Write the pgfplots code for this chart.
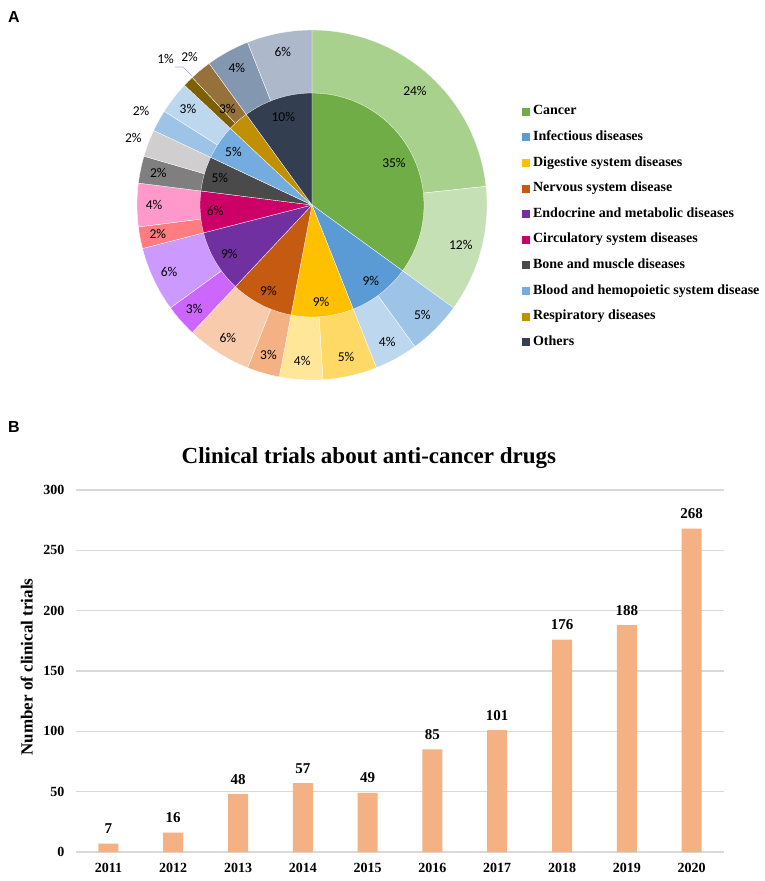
\documentclass[border=0pt]{standalone}
\usepackage{pgfplots}
\pgfplotsset{compat=1.18}
\usepackage{fontspec}
\setmainfont{Liberation Serif}
\newfontfamily\carlito{Carlito}
\newfontfamily\arialf{Liberation Sans}

% inner ring (disease groups)
\definecolor{inCa}{HTML}{70AD47}
\definecolor{inIn}{HTML}{5B9BD5}
\definecolor{inDi}{HTML}{FFC000}
\definecolor{inNe}{HTML}{C55A11}
\definecolor{inEn}{HTML}{7030A0}
\definecolor{inCi}{HTML}{CC0066}
\definecolor{inBo}{HTML}{4A4A4A}
\definecolor{inBl}{HTML}{75ACE0}
\definecolor{inRe}{HTML}{C09000}
\definecolor{inOt}{HTML}{333F50}
% outer ring
\definecolor{oCa1}{HTML}{A9D18E}
\definecolor{oCa2}{HTML}{C5E0B4}
\definecolor{oIn1}{HTML}{9DC3E6}
\definecolor{oIn2}{HTML}{BDD7EE}
\definecolor{oDi1}{HTML}{FFD966}
\definecolor{oDi2}{HTML}{FFE699}
\definecolor{oNe1}{HTML}{F4B183}
\definecolor{oNe2}{HTML}{F8CBAD}
\definecolor{oEn1}{HTML}{CC66FF}
\definecolor{oEn2}{HTML}{CC99FF}
\definecolor{oCi1}{HTML}{FF7C80}
\definecolor{oCi2}{HTML}{FF99CC}
\definecolor{oBo1}{HTML}{7F7F7F}
\definecolor{oBo2}{HTML}{D0CECE}
\definecolor{oBl1}{HTML}{9DC3E6}
\definecolor{oBl2}{HTML}{BDD7EE}
\definecolor{oRe1}{HTML}{7F6000}
\definecolor{oRe2}{HTML}{97713A}
\definecolor{oOt1}{HTML}{8497B0}
\definecolor{oOt2}{HTML}{ADB9CA}
\definecolor{barc}{HTML}{F4B183}
\definecolor{gridc}{HTML}{D9D9D9}

% share (%) / colour / label / label radius
\newcommand\innerlist{35/inCa/35/92, 9/inIn/9/96, 9/inDi/9/97, 9/inNe/9/96,
  9/inEn/9/96, 6/inCi/6/97, 5/inBo/5/96, 5/inBl/5/95, 3/inRe/3/128, 10/inOt/10/93}
\newcommand\outerlist{23.3/oCa1/24/154, 11.7/oCa2/12/154, 5/oIn1/5/156, 4/oIn2/4/156,
  5/oDi1/5/156, 4/oDi2/4/156, 3/oNe1/3/156, 6/oNe2/6/157, 3/oEn1/3/157, 6/oEn2/6/158,
  2/oCi1/2/157, 4/oCi2/4/158, 2.5/oBo1/2/157, 2.5/oBo2/2/191, 2/oBl1/2/195,
  3/oBl2/3/157, 1/oRe1/1/207, 2/oRe2/2/192, 4/oOt1/4/156, 6/oOt2/6/156}

\newcommand\ringfill[2]{%
  \xdef\cum{0}%
  \foreach \pp/\col/\lab/\rad in #2 {%
    \pgfmathsetmacro\sa{90-3.6*\cum}%
    \pgfmathsetmacro\ea{90-3.6*(\cum+\pp)}%
    \edef\temp{\noexpand\fill[\col, draw=white, line width=0.3pt] (axis cs:0,0) --
      (axis cs:{#1*cos(\sa)},{#1*sin(\sa)}) arc[start angle=\sa, end angle=\ea, radius=#1pt] -- cycle;}%
    \temp
    \pgfmathsetmacro\nn{\cum+\pp}\xdef\cum{\nn}%
  }}
\newcommand\ringlabels[1]{%
  \xdef\cum{0}%
  \foreach \pp/\col/\lab/\rad in #1 {%
    \pgfmathsetmacro\mm{90-3.6*(\cum+\pp/2)}%
    \edef\temp{\noexpand\node[pielab] at (axis cs:{\rad*cos(\mm)},{\rad*sin(\mm)}) {\lab\noexpand\%};}%
    \temp
    \pgfmathsetmacro\nn{\cum+\pp}\xdef\cum{\nn}%
  }}
\newcommand\legsq[1]{\addlegendimage{legend image code/.code={\fill[#1] (0pt,-3.5pt) rectangle (7pt,3.5pt);}}}
\tikzset{pielab/.style={font=\carlito\fontsize{13.5}{15}\selectfont, inner sep=0pt}}

\begin{document}
\begin{tikzpicture}
\path[use as bounding box] (0pt,0pt) rectangle (765pt,-881pt);
\node[font=\arialf\bfseries\fontsize{16}{18}\selectfont] at (14pt,-17pt) {A};
\node[font=\arialf\bfseries\fontsize{16}{18}\selectfont] at (14pt,-427pt) {B};

% panel A: donut
\begin{axis}[
    at={(312pt,-205pt)}, anchor=center,
    scale only axis, width=400pt, height=400pt,
    xmin=-200, xmax=200, ymin=-200, ymax=200,
    hide axis, clip=false,
    legend cell align=left,
    legend style={at={(axis cs:209.5,100.3)}, anchor=north west, draw=none, fill=none,
      inner sep=0pt, font=\bfseries\fontsize{14}{16}\selectfont, row sep=12.6pt,
      nodes={inner sep=0pt, text height=10pt, text depth=3pt},
      /tikz/every odd column/.append style={column sep=4pt}},
]
\ringfill{175}{\outerlist}
\ringfill{112}{\innerlist}
\ringlabels{\outerlist}
\ringlabels{\innerlist}
\draw[color=gray!60!blue!50, line width=0.6pt] (axis cs:-137,138) -- (axis cs:-129,138) -- (axis cs:-120,129);
\legsq{inCa}\addlegendentry{Cancer}
\legsq{inIn}\addlegendentry{Infectious diseases}
\legsq{inDi}\addlegendentry{Digestive system diseases}
\legsq{inNe}\addlegendentry{Nervous system disease}
\legsq{inEn}\addlegendentry{Endocrine and metabolic diseases}
\legsq{inCi}\addlegendentry{Circulatory system diseases}
\legsq{inBo}\addlegendentry{Bone and muscle diseases}
\legsq{inBl}\addlegendentry{Blood and hemopoietic system disease}
\legsq{inRe}\addlegendentry{Respiratory diseases}
\legsq{inOt}\addlegendentry{Others}
\end{axis}

% panel B: bars
\begin{axis}[
    at={(76pt,-852pt)}, anchor=south west,
    scale only axis, width=648pt, height=362pt,
    xmin=2010.5, xmax=2020.5, ymin=0, ymax=300,
    clip=false,
    ybar, bar width=20pt,
    xtick=data, ytick={0,50,100,150,200,250,300},
    /pgf/number format/1000 sep={},
    /pgf/number format/assume math mode=true,
    ymajorgrids, grid style={line width=1.3pt, color=gridc},
    axis line style={draw=none}, major tick length=0pt,
    tick label style={font=\bfseries\fontsize{14}{16}\selectfont},
    yticklabel style={xshift=-8pt},
    xticklabel style={yshift=-8pt},
    nodes near coords,
    nodes near coords style={font=\bfseries\fontsize{15}{17}\selectfont, anchor=center, yshift=15pt},
    ylabel={Number of clinical trials},
    every axis y label/.style={at={(axis description cs:-0.076,0.511)}, rotate=90, anchor=center,
      font=\bfseries\fontsize{17}{19}\selectfont},
]
\addplot[fill=barc, draw=none] coordinates {
  (2011,7) (2012,16) (2013,48) (2014,57) (2015,49)
  (2016,85) (2017,101) (2018,176) (2019,188) (2020,268)};
\node[anchor=base, font=\bfseries\fontsize{23}{26}\selectfont]
  at (axis description cs:0.452,1.072) {Clinical trials about anti-cancer drugs};
\end{axis}
\end{tikzpicture}
\end{document}
